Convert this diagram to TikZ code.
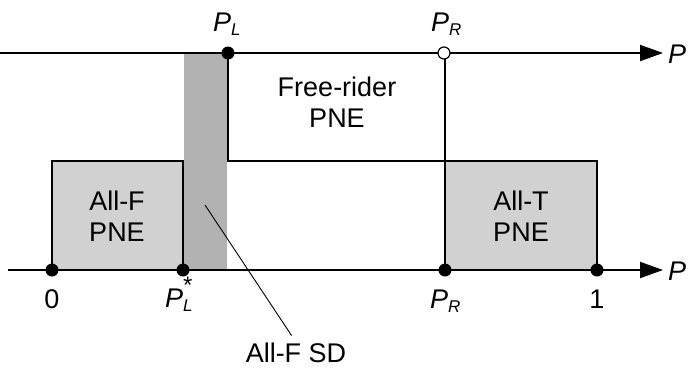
\documentclass[tikz,border=0pt]{standalone}
\usepackage{fontspec}
\setmainfont{Liberation Sans}
\usetikzlibrary{arrows.meta}
\definecolor{boxgray}{gray}{0.82}
\definecolor{stripgray}{gray}{0.70}
\newcommand{\myP}[1]{\textit{P}\raisebox{-0.3ex}{\fontsize{17}{17}\selectfont\textit{#1}}}
\begin{document}
\begin{tikzpicture}[x=1pt,y=-1pt,
  axis/.style={line width=2pt,-{Triangle[length=23pt,width=16pt]}},
  region/.style={draw=black,line width=1.8pt,fill=boxgray},
  dot/.style={circle,fill=black,inner sep=0pt,minimum size=13pt},
  odot/.style={circle,draw=black,fill=white,line width=1.2pt,inner sep=0pt,minimum size=12pt},
  lbl/.style={font=\fontsize{27}{31}\selectfont,align=center,inner sep=0pt},
  tick/.style={font=\fontsize{27}{31}\selectfont,inner sep=0pt}]
\useasboundingbox (0,0) rectangle (691,367);
% shaded strip (All-F SD)
\fill[stripgray] (184,54) rectangle (227,270);
% All-F PNE box
\draw[region] (52,270) rectangle (183,161);
% All-T PNE box
\draw[region] (445,270) rectangle (597,161);
% free-rider boundary
\draw[line width=1.8pt] (228,53) -- (228,161) -- (445,161);
\draw[line width=1.2pt] (445,53) -- (445,270);
% axes
\coordinate (t0) at (0,53);
\coordinate (t1) at (663,53);
\coordinate (b0) at (8,270);
\coordinate (b1) at (663,270);
\draw[axis] (t0) -- (t1);
\draw[axis] (b0) -- (b1);
\node[tick,anchor=base west] (Ptop) at (668,63) {\textit{P}};
\node[tick,anchor=base west] (Pbot) at (668,280) {\textit{P}};
% points
\node[dot] (zero) at (52,270) {};
\node[dot] (PLs) at (183,270) {};
\node[dot] (PRb) at (445,270) {};
\node[dot] (one) at (597,270) {};
\node[dot] (PLt) at (228,53) {};
\node[odot] (PRt) at (444,53) {};
% tick labels
\node[tick,anchor=base] (l0) at (52,308) {0};
\node[tick,anchor=base west] (lPLs) at (165,307) {\textit{P}\rlap{\raisebox{-0.3ex}{\fontsize{17}{17}\selectfont\textit{L}}}\raisebox{0.95ex}{\fontsize{24}{24}\selectfont *}};
\node[tick,anchor=base west] (lPRb) at (430,308) {\myP{R}};
\node[tick,anchor=base] (l1) at (597,308) {1};
\node[tick,anchor=base west] (lPLt) at (213,31) {\myP{L}};
\node[tick,anchor=base west] (lPRt) at (431,31) {\myP{R}};
% region labels
\node[lbl] (fr) at (337,102) {Free-rider\\PNE};
\node[lbl] (af) at (117,216) {All-F\\PNE};
\node[lbl] (at) at (521,216) {All-T\\PNE};
\node[tick,anchor=base,text depth=0pt] (sd) at (296,362) {All-F SD};
\coordinate (sdp) at (205,205);
\draw[line width=0.9pt,shorten >=8pt] (sdp) -- (sd.north);
\end{tikzpicture}
\end{document}
